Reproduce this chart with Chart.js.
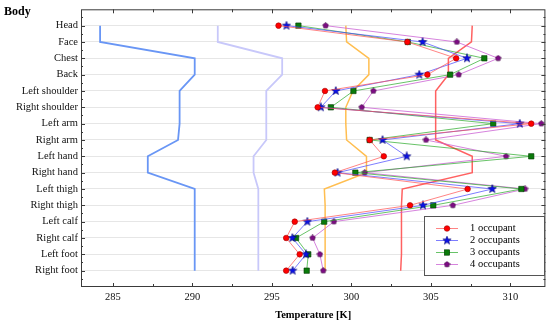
<!DOCTYPE html>
<html>
<head>
<meta charset="utf-8">
<script src="https://cdn.jsdelivr.net/npm/chart.js@4/dist/chart.umd.min.js"></script>
<style>
  html, body { margin: 0; padding: 0; background: #fff; }
  #chart { display: block; }
</style>
</head>
<body>
<canvas id="chart" width="550" height="323"></canvas>
<script>
// --- data ---
const categories = ['Head', 'Face', 'Chest', 'Back', 'Left shoulder', 'Right shoulder', 'Left arm', 'Right arm',
    'Left hand', 'Right hand', 'Left thigh', 'Right thigh', 'Left calf', 'Right calf', 'Left foot', 'Right foot'];

const xTicks = [285, 290, 295, 300, 305, 310];

// unlabelled profile lines
const profileBlue     = [284.2, 284.2, 290.15, 290.15, 289.2, 289.2, 289.2, 289.1, 287.2, 287.2, 290.15, 290.15, 290.15, 290.15, 290.15, 290.15];
const profileLavender = [291.6, 291.6, 295.65, 295.65, 294.65, 294.65, 294.65, 294.65, 293.85, 293.85, 294.15, 294.15, 294.15, 294.15, 294.15, 294.15];
const profileOrange   = [299.65, 299.7, 301.1, 301.1, 300.1, 299.65, 299.65, 299.7, 300.95, 300.95, 298.3, 298.35, 298.35, 298.35, 298.35, 298.35];
const profileRed      = [307.6, 307.55, 306.1, 306.1, 305.3, 305.3, 305.3, 305.3, 307.6, 307.6, 303.2, 303.15, 303.15, 303.15, 303.15, 303.1];

// occupant series
const occupant1 = [295.42, 303.52, 306.59, 304.78, 298.34, 297.88, 311.31, 301.15, 302.04, 298.96, 307.31, 303.69, 296.44, 295.9, 296.75, 295.9];
const occupant2 = [295.92, 304.48, 307.27, 304.27, 299.02, 298.08, 310.59, 301.96, 303.48, 299.13, 308.86, 304.5, 297.23, 296.29, 297.15, 296.31];
const occupant3 = [296.67, 303.55, 308.36, 306.21, 300.13, 298.71, 308.92, 301.15, 311.31, 300.25, 310.69, 305.15, 298.29, 296.52, 297.29, 297.19];
const occupant4 = [298.38, 306.63, 309.23, 306.75, 301.38, 300.65, 311.94, 304.69, 309.73, 300.84, 310.92, 306.38, 298.9, 297.56, 298.02, 298.23];

const FONT = "'Liberation Serif', 'Times New Roman', serif";

function toPoints(values) {
    return values.map((v, i) => ({ x: v, y: i }));
}

// small marker images for the star and pentagon symbols
function makePolygon(size, points, innerRatio, fill, stroke) {
    const c = document.createElement('canvas');
    c.width = c.height = size;
    const ctx = c.getContext('2d');
    const r = size / 2 - 0.6;
    const n = innerRatio ? points * 2 : points;
    ctx.beginPath();
    for (let i = 0; i < n; i++) {
        const rad = innerRatio && i % 2 ? r * innerRatio : r;
        const a = -Math.PI / 2 + i * 2 * Math.PI / n;
        ctx.lineTo(size / 2 + rad * Math.cos(a), size / 2 + rad * Math.sin(a));
    }
    ctx.closePath();
    ctx.fillStyle = fill;
    ctx.fill();
    ctx.strokeStyle = stroke;
    ctx.lineWidth = 0.6;
    ctx.stroke();
    return c;
}

const starImg = makePolygon(10, 5, 0.42, '#0a10e8', '#000070');
const pentaImg = makePolygon(7, 5, 0, '#7d0a84', '#3a003d');

const series = [
    { label: '1 occupant', values: occupant1, line: 'rgba(255,80,80,0.7)', style: 'circle', radius: 2.8, fill: '#ff0000', edge: '#a00000' },
    { label: '2 occupants', values: occupant2, line: 'rgba(70,70,255,0.7)', style: starImg, radius: 4, fill: '#0a10e8', edge: '#000070' },
    { label: '3 occupants', values: occupant3, line: 'rgba(40,170,40,0.7)', style: 'rect', radius: 3.8, fill: '#0a7a0a', edge: '#003800' },
    { label: '4 occupants', values: occupant4, line: 'rgba(200,90,210,0.75)', style: pentaImg, radius: 3, fill: '#7d0a84', edge: '#3a003d' },
];

const profiles = [
    { values: profileRed, color: 'rgba(255,80,80,0.9)', width: 1.5 },
    { values: profileOrange, color: 'rgba(255,190,80,1)', width: 1.5 },
    { values: profileLavender, color: 'rgba(200,200,250,1)', width: 1.8 },
    { values: profileBlue, color: 'rgba(105,150,245,1)', width: 1.8 },
];

const datasets = [
    ...series.map(s => ({
        label: s.label,
        data: toPoints(s.values),
        showLine: true,
        borderColor: s.line,
        borderWidth: 1,
        pointStyle: s.style,
        pointRadius: s.radius,
        pointBackgroundColor: s.fill,
        pointBorderColor: s.edge,
        pointBorderWidth: 0.6,
        clip: false
    })),
    ...profiles.map(p => ({
        label: '',
        data: toPoints(p.values),
        showLine: true,
        borderColor: p.color,
        borderWidth: p.width,
        pointRadius: 0
    }))
];

// frame, inward ticks, "Body" heading and the legend box
const decorPlugin = {
    id: 'decor',
    afterDraw(chart) {
        const { ctx, chartArea: a, scales } = chart;
        ctx.save();
        ctx.strokeStyle = '#3a3a3a';
        ctx.lineWidth = 1;
        ctx.strokeRect(a.left + 0.5, a.top + 0.5, a.right - a.left - 1, a.bottom - a.top - 1);

        ctx.beginPath();
        for (let v = 285; v <= 312; v += 2.5) {
            const x = Math.round(scales.x.getPixelForValue(v)) + 0.5;
            const len = v % 5 === 0 ? 4 : 3;
            ctx.moveTo(x, a.bottom); ctx.lineTo(x, a.bottom - len);
            ctx.moveTo(x, a.top); ctx.lineTo(x, a.top + len);
        }
        for (let v = -0.5; v <= 15.5; v += 0.5) {
            const y = Math.round(scales.y.getPixelForValue(v)) + 0.5;
            const len = Number.isInteger(v) ? 4 : 2;
            ctx.moveTo(a.left, y); ctx.lineTo(a.left + len, y);
            ctx.moveTo(a.right, y); ctx.lineTo(a.right - len, y);
        }
        ctx.stroke();

        ctx.fillStyle = '#000';
        ctx.font = `bold 12px ${FONT}`;
        ctx.textBaseline = 'alphabetic';
        ctx.fillText('Body', 4, 14.5);

        // legend
        const box = { left: 424, top: 216, right: 544, bottom: 275 };
        ctx.fillStyle = '#fff';
        ctx.fillRect(box.left, box.top, box.right - box.left, box.bottom - box.top);
        ctx.strokeStyle = '#555';
        ctx.strokeRect(box.left + 0.5, box.top + 0.5, box.right - box.left, box.bottom - box.top);
        ctx.font = `10.5px ${FONT}`;
        ctx.textBaseline = 'middle';
        series.forEach((s, i) => {
            const y = 228.5 + i * 12;
            ctx.strokeStyle = s.line;
            ctx.lineWidth = 1;
            ctx.beginPath(); ctx.moveTo(436, y); ctx.lineTo(458, y); ctx.stroke();
            const cx = 447;
            if (s.style === 'circle') {
                ctx.beginPath(); ctx.arc(cx, y, s.radius, 0, Math.PI * 2);
                ctx.fillStyle = s.fill; ctx.fill();
                ctx.strokeStyle = s.edge; ctx.lineWidth = 0.6; ctx.stroke();
            } else if (s.style === 'rect') {
                const h = s.radius * Math.SQRT1_2;
                ctx.fillStyle = s.fill; ctx.fillRect(cx - h, y - h, 2 * h, 2 * h);
                ctx.strokeStyle = s.edge; ctx.lineWidth = 0.6; ctx.strokeRect(cx - h, y - h, 2 * h, 2 * h);
            } else {
                ctx.drawImage(s.style, cx - s.style.width / 2, y - s.style.height / 2);
            }
            ctx.fillStyle = '#000';
            ctx.fillText(s.label, 470, y);
        });
        ctx.restore();
    }
};

new Chart(document.getElementById('chart'), {
    type: 'scatter',
    data: { datasets },
    options: {
        responsive: false,
        animation: false,
        devicePixelRatio: 1,
        layout: { padding: { top: 5, right: 3, left: 0, bottom: 0 } },
        plugins: { legend: { display: false }, tooltip: { enabled: false } },
        scales: {
            x: {
                type: 'linear',
                min: 283,
                max: 312.2,
                afterBuildTicks: scale => { scale.ticks = xTicks.map(v => ({ value: v })); },
                afterFit: scale => { scale.height = 36; },
                grid: { display: false, drawTicks: false },
                border: { display: false },
                ticks: { font: { family: FONT, size: 10.5 }, color: '#111', padding: 4, maxRotation: 0 },
                title: {
                    display: true,
                    text: 'Temperature [K]',
                    color: '#000',
                    font: { family: FONT, size: 10.5, weight: 'bold' },
                    padding: { top: 0, bottom: 1 }
                }
            },
            y: {
                type: 'linear',
                reverse: true,
                min: -1,
                max: 16,
                afterBuildTicks: scale => { scale.ticks = categories.map((c, i) => ({ value: i })); },
                afterFit: scale => { scale.width = 81; },
                border: { display: false },
                grid: { color: '#e6e6e6', lineWidth: 1, drawTicks: false },
                ticks: {
                    autoSkip: false,
                    padding: 3,
                    color: '#111',
                    font: { family: FONT, size: 10.5 },
                    callback: v => categories[v] ?? ''
                }
            }
        }
    },
    plugins: [decorPlugin]
});
</script>
</body>
</html>
